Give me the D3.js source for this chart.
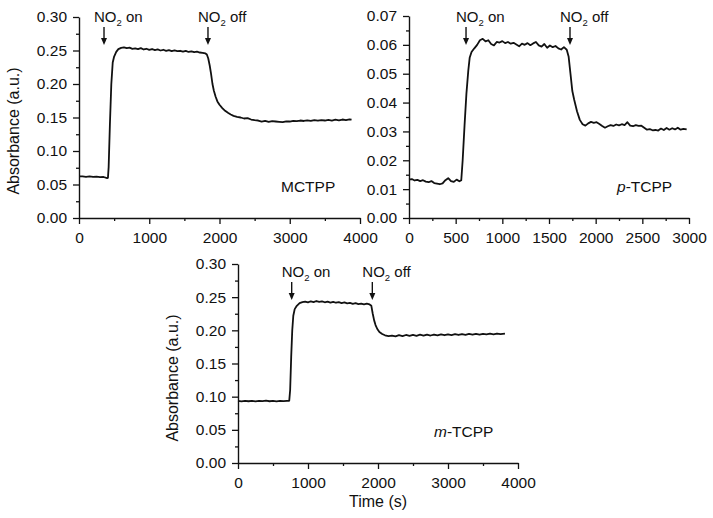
<!DOCTYPE html>
<html lang="en">
<head>
<meta charset="UTF-8">
<script src="https://d3js.org/d3.v7.min.js"></script>
<title>NO2 response</title>
<style>
  body { margin: 0; background: #fff; }
  text { font-family: "Liberation Sans", Arial, sans-serif; fill: #111; }
</style>
</head>
<body>
<svg width="713" height="518" id="chart"></svg>
<script>
// ---- data: [time (s), absorbance (a.u.)] ----
var mctppData = [
  [0,0.0620],[50,0.0620],[100,0.0615],[150,0.0620],[200,0.0614],[250,0.0616],[300,0.0610],[350,0.0612],
  [400,0.0596],[412,0.0600],[422,0.0760],[440,0.1400],[460,0.2000],[480,0.2320],[500,0.2410],[530,0.2480],
  [560,0.2520],[600,0.2540],[640,0.2548],[680,0.2535],[720,0.2542],[760,0.2525],[800,0.2532],[840,0.2520],
  [880,0.2536],[920,0.2515],[960,0.2526],[1000,0.2510],[1040,0.2522],[1080,0.2505],[1120,0.2516],[1160,0.2500],
  [1200,0.2511],[1240,0.2495],[1280,0.2506],[1320,0.2490],[1360,0.2502],[1400,0.2490],[1440,0.2496],[1480,0.2484],
  [1520,0.2495],[1560,0.2478],[1600,0.2488],[1640,0.2475],[1680,0.2482],[1720,0.2470],[1760,0.2466],[1800,0.2456],
  [1820,0.2440],[1840,0.2380],[1860,0.2280],[1880,0.2150],[1900,0.2000],[1920,0.1900],[1945,0.1810],[1970,0.1740],
  [2000,0.1690],[2040,0.1640],[2080,0.1600],[2120,0.1570],[2160,0.1545],[2200,0.1525],[2250,0.1510],[2300,0.1500],
  [2350,0.1485],[2400,0.1490],[2450,0.1470],[2500,0.1460],[2550,0.1455],[2600,0.1440],[2650,0.1450],[2700,0.1435],
  [2750,0.1445],[2800,0.1440],[2850,0.1435],[2900,0.1430],[2950,0.1442],[3000,0.1440],[3050,0.1450],[3100,0.1445],
  [3150,0.1455],[3200,0.1448],[3250,0.1458],[3300,0.1450],[3350,0.1460],[3400,0.1452],[3450,0.1462],[3500,0.1455],
  [3550,0.1465],[3600,0.1455],[3650,0.1468],[3700,0.1458],[3750,0.1470],[3800,0.1462],[3850,0.1472],[3880,0.1468]
];

var pTcppData = [
  [0,0.0133],[30,0.0135],[60,0.0130],[90,0.0132],[120,0.0128],[150,0.0131],[180,0.0126],[210,0.0124],
  [240,0.0128],[270,0.0121],[300,0.0119],[330,0.0117],[360,0.0120],[390,0.0131],[420,0.0138],[450,0.0128],
  [480,0.0125],[510,0.0133],[540,0.0127],[560,0.0131],[575,0.0200],[595,0.0320],[615,0.0430],[635,0.0510],
  [650,0.0555],[670,0.0575],[700,0.0588],[730,0.0600],[760,0.0616],[790,0.0621],[820,0.0612],[850,0.0616],
  [880,0.0603],[910,0.0598],[940,0.0610],[970,0.0608],[1000,0.0613],[1030,0.0606],[1060,0.0610],[1090,0.0604],
  [1120,0.0607],[1150,0.0601],[1180,0.0595],[1210,0.0604],[1240,0.0600],[1270,0.0606],[1300,0.0599],[1330,0.0605],
  [1360,0.0610],[1390,0.0598],[1420,0.0594],[1450,0.0603],[1480,0.0590],[1510,0.0598],[1540,0.0592],[1570,0.0596],
  [1600,0.0588],[1630,0.0584],[1660,0.0592],[1690,0.0583],[1710,0.0560],[1730,0.0500],[1750,0.0440],[1770,0.0410],
  [1800,0.0370],[1830,0.0340],[1860,0.0325],[1890,0.0320],[1920,0.0328],[1950,0.0333],[1980,0.0330],[2010,0.0332],
  [2040,0.0326],[2070,0.0319],[2100,0.0313],[2130,0.0318],[2160,0.0322],[2190,0.0319],[2220,0.0324],[2250,0.0321],
  [2280,0.0325],[2310,0.0322],[2340,0.0332],[2370,0.0320],[2400,0.0318],[2430,0.0322],[2460,0.0319],[2490,0.0320],
  [2520,0.0313],[2550,0.0306],[2580,0.0308],[2610,0.0304],[2640,0.0305],[2670,0.0303],[2700,0.0310],[2730,0.0305],
  [2760,0.0312],[2790,0.0306],[2820,0.0311],[2850,0.0307],[2880,0.0313],[2910,0.0306],[2940,0.0309],[2975,0.0307]
];

var mTcppData = [
  [0,0.0935],[50,0.0930],[100,0.0938],[150,0.0931],[200,0.0937],[250,0.0930],[300,0.0938],[350,0.0932],
  [400,0.0939],[450,0.0931],[500,0.0937],[550,0.0930],[600,0.0936],[650,0.0932],[700,0.0937],[732,0.0938],
  [745,0.1100],[760,0.1600],[775,0.2000],[790,0.2220],[810,0.2320],[840,0.2370],[880,0.2410],[920,0.2425],
  [960,0.2433],[1000,0.2422],[1040,0.2438],[1080,0.2426],[1120,0.2442],[1160,0.2430],[1200,0.2438],[1240,0.2423],
  [1280,0.2432],[1320,0.2418],[1360,0.2430],[1400,0.2416],[1440,0.2424],[1480,0.2410],[1520,0.2420],[1560,0.2406],
  [1600,0.2414],[1640,0.2400],[1680,0.2410],[1720,0.2396],[1760,0.2404],[1800,0.2393],[1840,0.2402],[1880,0.2390],
  [1905,0.2370],[1925,0.2250],[1945,0.2150],[1965,0.2080],[1990,0.2020],[2020,0.1975],[2060,0.1945],[2100,0.1925],
  [2150,0.1912],[2200,0.1920],[2250,0.1908],[2300,0.1927],[2350,0.1912],[2400,0.1930],[2450,0.1915],[2500,0.1932],
  [2550,0.1918],[2600,0.1934],[2650,0.1920],[2700,0.1936],[2750,0.1922],[2800,0.1937],[2850,0.1924],[2900,0.1938],
  [2950,0.1926],[3000,0.1940],[3050,0.1928],[3100,0.1942],[3150,0.1930],[3200,0.1944],[3250,0.1932],[3300,0.1946],
  [3350,0.1934],[3400,0.1948],[3450,0.1936],[3500,0.1948],[3550,0.1938],[3600,0.1950],[3650,0.1940],[3700,0.1952],
  [3750,0.1942],[3814,0.1952]
];

// NO2 on / off times (s)
var mctppEvents = [356, 1836];
var pTcppEvents = [611, 1725];
var mTcppEvents = [767, 1919];

var xTicks4000 = [0, 1000, 2000, 3000, 4000];
var xTicks3000 = [0, 500, 1000, 1500, 2000, 2500, 3000];
var yTicks030 = [0, 0.05, 0.10, 0.15, 0.20, 0.25, 0.30];
var yTicks007 = [0, 0.01, 0.02, 0.03, 0.04, 0.05, 0.06, 0.07];

var svg = d3.select('#chart');

function drawPanel(p) {
    var x = d3.scaleLinear().domain(p.xDomain).range([p.left, p.right]);
    var y = d3.scaleLinear().domain(p.yDomain).range([p.bottom, p.top]);

    var g = svg.append('g');

    // minor ticks, halfway between the majors
    var xMinor = d3.range(p.xDomain[0], p.xDomain[1], p.xStep).map(function(d){ return d + p.xStep/2; });
    var yMinor = d3.range(0, p.yDomain[1] - 1e-9, p.yStep).map(function(d){ return d + p.yStep/2; });

    g.append('g')
        .attr('transform', 'translate(0,' + p.bottom + ')')
        .call(d3.axisBottom(x).tickValues(xMinor).tickSize(3).tickFormat(''))
        .call(function(a){ a.select('.domain').remove(); });
    g.append('g')
        .attr('transform', 'translate(' + p.left + ',0)')
        .call(d3.axisLeft(y).tickValues(yMinor).tickSize(3).tickFormat(''))
        .call(function(a){ a.select('.domain').remove(); });

    g.append('g')
        .attr('transform', 'translate(0,' + p.bottom + ')')
        .call(d3.axisBottom(x).tickValues(p.xTicks).tickSize(6).tickSizeOuter(0).tickPadding(8).tickFormat(d3.format('d')));
    g.append('g')
        .attr('transform', 'translate(' + p.left + ',0)')
        .call(d3.axisLeft(y).tickValues(p.yTicks).tickSize(6).tickSizeOuter(0).tickPadding(6).tickFormat(d3.format('.2f')));

    g.selectAll('.tick line').attr('stroke', '#111').attr('stroke-width', 1.3);
    g.selectAll('.domain').attr('stroke', '#111').attr('stroke-width', 1.4);
    g.selectAll('.tick text').attr('font-size', 15.5).attr('fill', '#111')
        .style('font-family', '"Liberation Sans", Arial, sans-serif');

    var line = d3.line()
        .x(function(d){ return x(d[0]); })
        .y(function(d){ return y(d[1]); });

    g.append('path')
        .datum(p.data)
        .attr('fill', 'none')
        .attr('stroke', '#111')
        .attr('stroke-width', 1.8)
        .attr('stroke-linejoin', 'round')
        .attr('d', line);

    // NO2 on / off arrows
    var words = [' on', ' off'];
    p.events.forEach(function(t, i){
        var ax = x(t);
        var top = p.top + p.arrowTop;
        var tip = top + 18;
        g.append('line')
            .attr('x1', ax).attr('x2', ax)
            .attr('y1', top).attr('y2', tip - 4)
            .attr('stroke', '#111').attr('stroke-width', 1.4);
        g.append('path')
            .attr('d', 'M' + (ax - 3) + ',' + (tip - 7) + 'L' + (ax + 3) + ',' + (tip - 7) + 'L' + ax + ',' + tip + 'Z')
            .attr('fill', '#111');
        var txt = g.append('text')
            .attr('x', ax - 10)
            .attr('y', p.top + p.arrowTop - 5)
            .attr('font-size', 15);
        txt.append('tspan').text('NO');
        txt.append('tspan').attr('font-size', 9.5).attr('dy', 4).text('2');
        txt.append('tspan').attr('dy', -4).text(words[i]);
    });

    // sample name
    var name = g.append('text')
        .attr('x', p.nameX)
        .attr('y', p.bottom - 26)
        .attr('font-size', 15.5);
    if (p.prefix) {
        name.append('tspan').attr('font-style', 'italic').text(p.prefix);
        name.append('tspan').text('-' + p.name);
    } else {
        name.text(p.name);
    }

    if (p.yLabel) {
        g.append('text')
            .attr('transform', 'translate(' + (p.left - 60) + ',' + (p.top + 114) + ') rotate(-90)')
            .attr('text-anchor', 'middle')
            .attr('font-size', 16)
            .text('Absorbance (a.u.)');
    }
    if (p.xLabel) {
        g.append('text')
            .attr('x', (p.left + p.right) / 2)
            .attr('y', p.bottom + 44)
            .attr('text-anchor', 'middle')
            .attr('font-size', 16)
            .text('Time (s)');
    }
}

drawPanel({
    data: mctppData, events: mctppEvents,
    xDomain: [0, 4000], yDomain: [0, 0.30], xTicks: xTicks4000, yTicks: yTicks030,
    xStep: 1000, yStep: 0.05,
    left: 79, right: 360, top: 17, bottom: 218, arrowTop: 10,
    name: 'MCTPP', nameX: 281, yLabel: true
});

drawPanel({
    data: pTcppData, events: pTcppEvents,
    xDomain: [0, 3000], yDomain: [0, 0.07], xTicks: xTicks3000, yTicks: yTicks007,
    xStep: 500, yStep: 0.01,
    left: 409, right: 689, top: 16, bottom: 218, arrowTop: 11,
    name: 'TCPP', prefix: 'p', nameX: 617
});

drawPanel({
    data: mTcppData, events: mTcppEvents,
    xDomain: [0, 4000], yDomain: [0, 0.30], xTicks: xTicks4000, yTicks: yTicks030,
    xStep: 1000, yStep: 0.05,
    left: 238, right: 518, top: 264, bottom: 463, arrowTop: 18,
    name: 'TCPP', prefix: 'm', nameX: 434, yLabel: true, xLabel: true
});
</script>
</body>
</html>
